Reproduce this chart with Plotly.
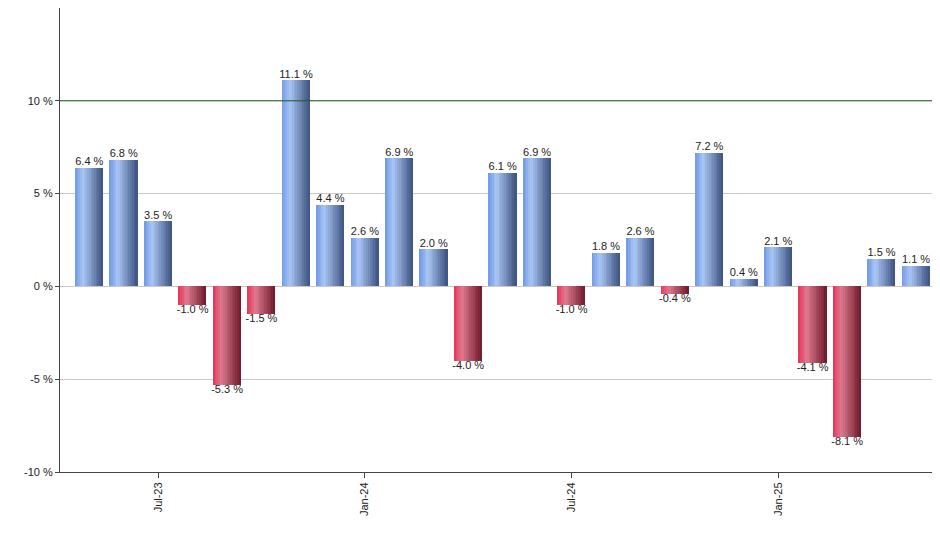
import plotly.graph_objects as go

# monthly returns, May-23 .. May-25
months = ["May-23", "Jun-23", "Jul-23", "Aug-23", "Sep-23", "Oct-23", "Nov-23", "Dec-23",
          "Jan-24", "Feb-24", "Mar-24", "Apr-24", "May-24", "Jun-24", "Jul-24", "Aug-24",
          "Sep-24", "Oct-24", "Nov-24", "Dec-24", "Jan-25", "Feb-25", "Mar-25", "Apr-25", "May-25"]
returns = [6.4, 6.8, 3.5, -1.0, -5.3, -1.5, 11.1, 4.4, 2.6, 6.9, 2.0, -4.0, 6.1, 6.9,
           -1.0, 1.8, 2.6, -0.4, 7.2, 0.4, 2.1, -4.1, -8.1, 1.5, 1.1]
tick_months = ["Jul-23", "Jan-24", "Jul-24", "Jan-25"]
y_ticks = [-10, -5, 0, 5, 10]

x = list(range(len(months)))


def lerp(c1, c2, t):
    return "rgb(%d,%d,%d)" % tuple(round(a + (b - a) * t) for a, b in zip(c1, c2))


def grad(stops, t):
    for (p0, c0), (p1, c1) in zip(stops, stops[1:]):
        if t <= p1:
            return lerp(c0, c1, (t - p0) / (p1 - p0))
    return lerp(stops[-1][1], stops[-1][1], 0)


blue = [(0, (110, 152, 230)), (0.3, (170, 198, 244)), (1, (60, 82, 128))]
red = [(0, (232, 52, 88)), (0.3, (222, 122, 144)), (1, (110, 26, 42))]

fig = go.Figure()

width = 0.8
steps = 16
dw = width / steps
for k in range(steps):
    t = (k + 0.5) / steps
    colors = [grad(blue if v >= 0 else red, t) for v in returns]
    fig.add_trace(go.Bar(
        x=x, y=returns, width=dw * 1.05, offset=-width / 2 + k * dw,
        marker=dict(color=colors, line=dict(width=0)),
        hoverinfo="skip", showlegend=False,
    ))

fig.add_trace(go.Scatter(
    x=x, y=returns, mode="text",
    text=[f"{v:.1f} %" for v in returns],
    textposition=["top center" if v >= 0 else "bottom center" for v in returns],
    textfont=dict(size=11, color="#222", family="Arial, Liberation Sans"),
    showlegend=False, hoverinfo="skip",
))

fig.add_hline(y=10, line=dict(color="#1a5c1a", width=1))

fig.update_layout(
    width=940, height=550,
    margin=dict(l=52, r=2, t=0, b=86),
    plot_bgcolor="white", paper_bgcolor="white",
    barmode="overlay", bargap=0,
    font=dict(family="Arial, Liberation Sans", size=11, color="#222"),
    xaxis=dict(
        range=[-0.85, 24.87],
        tickvals=[months.index(m) for m in tick_months], ticktext=tick_months,
        tickangle=-90, ticks="outside", ticklen=5, tickcolor="#444",
        showgrid=False, zeroline=False,
        showline=True, linecolor="#444", mirror=True,
    ),
    yaxis=dict(
        range=[-10, 15],
        tickvals=y_ticks, ticktext=[f"{v} %" for v in y_ticks],
        ticks="outside", ticklen=4, tickcolor="#444",
        showgrid=True, gridcolor="#c8c8c8",
        zeroline=False,
        showline=True, linecolor="#444", mirror=True,
    ),
)

fig.write_html("out.html")
